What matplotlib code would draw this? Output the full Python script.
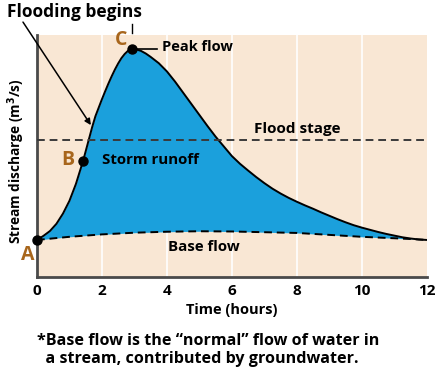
import numpy as np
import matplotlib
matplotlib.use('Agg')
import matplotlib.pyplot as plt

plt.rcParams['font.family'] = ['Open Sans', 'DejaVu Sans']
plt.rcParams['font.weight'] = 'bold'
plt.rcParams['axes.labelweight'] = 'bold'
plt.rcParams['mathtext.default'] = 'bf'

# hydrograph (hours, relative discharge)
time_h = [0, 0.2, 0.4, 0.6, 0.8, 1.0, 1.2, 1.42, 1.6, 1.7, 1.8, 1.9, 2.0, 2.1, 2.2, 2.3,
          2.4, 2.5, 2.6, 2.7, 2.8, 2.92, 3.05, 3.2, 3.35, 3.5, 3.75, 4.0, 4.25, 4.5,
          4.75, 5.0, 5.25, 5.5, 5.75, 6.0, 6.25, 6.5, 6.75, 7.0, 7.25, 7.5, 7.75, 8.0,
          8.25, 8.5, 8.75, 9.0, 9.25, 9.5, 9.75, 10.0, 10.25, 10.5, 10.75, 11.0,
          11.25, 11.5, 11.75, 12.0]
discharge = [1.53, 1.7, 1.9, 2.2, 2.62, 3.15, 3.85, 4.8, 5.7, 6.2, 6.65, 7.0, 7.35, 7.68,
             8.0, 8.3, 8.58, 8.83, 9.05, 9.22, 9.35, 9.42, 9.41, 9.35, 9.24, 9.1, 8.84,
             8.5, 8.08, 7.62, 7.16, 6.7, 6.24, 5.8, 5.4, 5.0, 4.68, 4.4, 4.13, 3.88,
             3.65, 3.45, 3.27, 3.11, 2.96, 2.82, 2.67, 2.53, 2.39, 2.26, 2.14, 2.04,
             1.95, 1.86, 1.78, 1.71, 1.64, 1.59, 1.55, 1.53]

# base flow (dashed)
base_t = [0, 1, 2, 3, 4, 5, 6, 7, 8, 9, 10, 11, 11.5, 12]
base_q = [1.53, 1.66, 1.76, 1.83, 1.87, 1.89, 1.88, 1.85, 1.82, 1.74, 1.66, 1.6, 1.57, 1.53]

flood_stage = 5.66
point_a = (0, 1.53)
point_b = (1.42, 4.8)
point_c = (2.92, 9.42)
xticks = [0, 2, 4, 6, 8, 10, 12]

fig = plt.figure(figsize=(4.4, 3.82), dpi=100)
ax = fig.add_axes([0.084, 0.275, 0.886, 0.633])
ax.set_facecolor('#f9e7d4')
ax.set_xlim(0, 12)
ax.set_ylim(0, 10)

for t in xticks[1:-1]:
    ax.axvline(t, color='white', lw=1.2, zorder=1)

base_on_grid = np.interp(time_h, base_t, base_q)
ax.fill_between(time_h, base_on_grid, discharge, color='#1ba0dc', zorder=2, lw=0)
ax.plot(time_h, discharge, color='black', lw=1.4, zorder=3)
ax.plot(base_t, base_q, color='black', lw=1.4, ls=(0, (4, 2.5)), zorder=3)
ax.axhline(flood_stage, color='#3a3a3a', lw=1.4, ls=(0, (4, 2.5)), zorder=3)

# short tick above the peak + leader to "Peak flow"
ax.plot([point_c[0], point_c[0]], [10.1, 10.45], color='black', lw=1,
        clip_on=False, zorder=4)
ax.plot([point_c[0], 3.7], [point_c[1], point_c[1]], color='black', lw=1.2, zorder=4)

for p in (point_a, point_b, point_c):
    ax.plot(*p, 'o', color='black', ms=6.5, clip_on=False, zorder=5)

lab_col = '#a8661c'
ax.text(-0.28, 0.9, 'A', color=lab_col, fontsize=14, fontweight='bold',
        ha='center', va='center', clip_on=False)
ax.text(0.95, 4.83, 'B', color=lab_col, fontsize=14, fontweight='bold', ha='center', va='center')
ax.text(2.58, 9.8, 'C', color=lab_col, fontsize=14, fontweight='bold', ha='center', va='center')

ax.text(3.85, 9.5, 'Peak flow', fontsize=10.5, fontweight='bold', ha='left', va='center')
ax.text(8.0, 6.12, 'Flood stage', fontsize=11, fontweight='bold', ha='center', va='center')
ax.text(3.48, 4.83, 'Storm runoff', fontsize=10.8, fontweight='bold', ha='center', va='center')
ax.text(5.14, 1.24, 'Base flow', fontsize=10.8, fontweight='bold', ha='center', va='center')

ax.annotate('', xy=(1.66, 6.28), xytext=(-0.43, 10.54),
            arrowprops=dict(arrowstyle='-|>', color='black', lw=1.1,
                            mutation_scale=9, shrinkA=0, shrinkB=0),
            annotation_clip=False)
fig.text(0.016, 0.969, 'Flooding begins', fontsize=12.5, fontweight='bold',
         ha='left', va='center')

ax.spines['top'].set_visible(False)
ax.spines['right'].set_visible(False)
for s in ('left', 'bottom'):
    ax.spines[s].set_color('#4a4a4a')
    ax.spines[s].set_linewidth(2)
ax.set_xticks(xticks)
ax.set_xticklabels([str(t) for t in xticks], fontsize=11, fontweight='bold')
ax.set_yticks([])
ax.tick_params(axis='x', length=0, pad=5)
ax.set_xlabel('Time (hours)', fontsize=10.5, fontweight='bold', labelpad=4)
fig.text(0.036, 0.578, 'Stream discharge (m$^3$/s)', rotation=90, fontsize=9.8,
         fontweight='bold', ha='center', va='center')

fig.text(0.084, 0.084, '*Base flow is the \u201cnormal\u201d flow of water in\n  a stream, contributed by groundwater.',
         fontsize=11.6, fontweight='bold', ha='left', va='center', linespacing=1.2)

fig.savefig('out.png', dpi=100)
